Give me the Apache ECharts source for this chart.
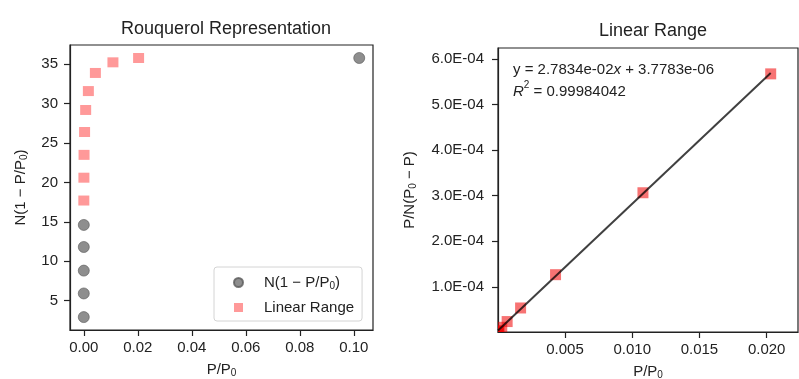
<!DOCTYPE html>
<html>
<head>
<meta charset="utf-8">
<script src="https://cdn.jsdelivr.net/npm/echarts@6/dist/echarts.min.js"></script>
<style>
  html, body { margin: 0; padding: 0; background: #fff; }
  #chart { width: 799px; height: 379px; }
</style>
</head>
<body>
<div id="chart"></div>
<script>
// data
var allX = [0.000001, 0.000002, 0.000004, 0.000006, 0.00001, 0.102];
var allN = [2.9, 5.9, 8.8, 11.8, 14.6, 35.8];
var linX = [0.00002, 0.00005, 0.0001, 0.0003, 0.0007, 0.0017, 0.0043, 0.0108, 0.0203];
var linN = [17.7, 20.6, 23.5, 26.4, 29.2, 31.6, 33.9, 35.25, 35.8];
var linY = [1.13e-6, 2.43e-6, 4.26e-6, 1.14e-5, 2.40e-5, 5.38e-5, 1.268e-4, 3.064e-4, 5.670e-4];
var fitSlope = 2.7834e-2;
var fitIntercept = 3.7783e-6;

// tick labels
var leftXTicks = [0, 0.02, 0.04, 0.06, 0.08, 0.10];
var leftYTicks = [5, 10, 15, 20, 25, 30, 35];
var rightXTicks = [0.005, 0.010, 0.015, 0.020];
var rightYTicks = [1e-4, 2e-4, 3e-4, 4e-4, 5e-4, 6e-4];

var FONT = "'Liberation Sans', Arial, sans-serif";
var INK = '#222';
var FS = 15;

var pairs = function (xs, ys) {
  var out = [];
  for (var i = 0; i < xs.length; i++) out.push([xs[i], ys[i]]);
  return out;
};

var sciLabel = function (v) {
  var s = v.toExponential(1).toUpperCase();
  return s.replace(/E([+-])(\d)$/, 'E$10$2');
};

var subRich = {
  a: { fontSize: FS, fontFamily: FONT, color: INK, lineHeight: 17 },
  s: { fontSize: 10, fontFamily: FONT, color: INK, lineHeight: 10, verticalAlign: 'bottom', padding: [5, 0, 0, 0] }
};

var axisCommon = function (opts) {
  var ax = {
    type: 'value',
    gridIndex: opts.grid,
    min: opts.min,
    max: opts.max,
    splitLine: { show: false },
    axisLine: { show: true, onZero: false, lineStyle: { color: INK, width: 1.2 } },
    axisTick: { show: true, length: 6, lineStyle: { color: INK, width: 1.2 }, customValues: opts.ticks },
    axisLabel: { color: INK, fontSize: FS, fontFamily: FONT, margin: opts.margin, customValues: opts.ticks, formatter: opts.fmt },
    name: opts.name,
    nameLocation: 'middle',
    nameGap: opts.nameGap,
    nameTextStyle: { rich: subRich }
  };
  if (opts.rotate) ax.nameRotate = 90;
  return ax;
};

// squares of the linear plot, clipped to the plot box like the original
var renderClippedSquare = function (params, api) {
  var p = api.coord([api.value(0), api.value(1)]);
  var half = 5.5;
  var shape = echarts.graphic.clipRectByRect(
    { x: p[0] - half, y: p[1] - half, width: half * 2, height: half * 2 },
    { x: params.coordSys.x, y: params.coordSys.y, width: params.coordSys.width, height: params.coordSys.height }
  );
  if (!shape) return null;
  return { type: 'rect', shape: shape, style: { fill: 'rgba(240,0,0,0.55)' } };
};

var chart = echarts.init(document.getElementById('chart'));

var xMin = linX[0], xMax = linX[linX.length - 1];

var option = {
  animation: false,
  backgroundColor: '#fff',
  title: [
    { text: 'Rouquerol Representation', left: 221, top: 15, textAlign: 'center',
      textStyle: { fontSize: 18, fontWeight: 'normal', color: INK, fontFamily: FONT } },
    { text: 'Linear Range', left: 648, top: 17, textAlign: 'center',
      textStyle: { fontSize: 18, fontWeight: 'normal', color: INK, fontFamily: FONT } }
  ],
  grid: [
    { left: 70, top: 45, width: 303, height: 285, outerBoundsMode: 'none', containLabel: false,
      show: true, borderColor: INK, borderWidth: 1.2, backgroundColor: 'transparent' },
    { left: 498, top: 48, width: 300, height: 284, outerBoundsMode: 'none', containLabel: false,
      show: true, borderColor: INK, borderWidth: 1.2, backgroundColor: 'transparent' }
  ],
  xAxis: [
    axisCommon({ grid: 0, min: -0.0051, max: 0.1071, ticks: leftXTicks, nameGap: 31, margin: 10,
      fmt: function (v) { return v.toFixed(2); }, name: '{a|P/P}{s|0}' }),
    axisCommon({ grid: 1, min: xMin, max: xMax * 1.1, ticks: rightXTicks, nameGap: 31, margin: 10,
      fmt: function (v) { return v.toFixed(3); }, name: '{a|P/P}{s|0}' })
  ],
  yAxis: [
    axisCommon({ grid: 0, min: 1.26, max: 37.45, ticks: leftYTicks, nameGap: 41, rotate: true, margin: 12,
      fmt: function (v) { return String(Math.round(v)); }, name: '{a|N(1 − P/P}{s|0}{a|)}' }),
    axisCommon({ grid: 1, min: linY[0], max: linY[linY.length - 1] * 1.1, ticks: rightYTicks, nameGap: 80, rotate: true, margin: 14,
      fmt: sciLabel, name: '{a|P/N(P}{s|0}{a| − P)}' })
  ],
  legend: {
    data: ['N(1 − P/P0)', 'Linear Range'],
    orient: 'vertical',
    left: 214,
    top: 267,
    itemWidth: 9,
    itemHeight: 9,
    itemGap: 9,
    padding: [8, 8, 6, 19],
    borderColor: '#d4d4d4',
    borderWidth: 1,
    borderRadius: 3,
    backgroundColor: 'rgba(255,255,255,0.8)',
    formatter: function (name) {
      if (name === 'Linear Range') return '{sp|}{a|Linear Range}';
      return '{sp|}{a|N(1 − P/P}{s|0}{a|)}';
    },
    textStyle: {
      rich: {
        sp: { width: 16 },
        a: subRich.a,
        s: subRich.s
      }
    }
  },
  graphic: [
    {
      type: 'text', left: 513, top: 62,
      style: {
        text: '{a|y = 2.7834e-02}{i|x}{a| + 3.7783e-06}\n{i|R}{p|2}{a| = 0.99984042}',
        rich: {
          a: { fontSize: FS, fontFamily: FONT, fill: INK, lineHeight: 22 },
          i: { fontSize: FS, fontFamily: FONT, fill: INK, fontStyle: 'italic', lineHeight: 22 },
          p: { fontSize: 10, fontFamily: FONT, fill: INK, verticalAlign: 'top', lineHeight: 12 }
        }
      }
    }
  ],
  series: [
    {
      name: 'N(1 − P/P0)',
      type: 'scatter',
      xAxisIndex: 0, yAxisIndex: 0,
      symbol: 'circle',
      symbolSize: 11,
      itemStyle: { color: '#727272', borderColor: '#5a5a5a', borderWidth: 0.8 },
      data: pairs(allX, allN)
    },
    {
      name: 'Linear Range',
      type: 'scatter',
      xAxisIndex: 0, yAxisIndex: 0,
      symbol: 'rect',
      symbolSize: [11, 10],
      itemStyle: { color: 'rgba(255,0,0,0.5)' },
      data: pairs(linX, linN)
    },
    {
      name: 'lin-points',
      type: 'custom',
      xAxisIndex: 1, yAxisIndex: 1,
      renderItem: renderClippedSquare,
      data: pairs(linX, linY)
    },
    {
      name: 'fit',
      type: 'line',
      xAxisIndex: 1, yAxisIndex: 1,
      showSymbol: false,
      z: 5,
      lineStyle: { color: 'rgba(0,0,0,0.75)', width: 2 },
      data: [[xMin, fitSlope * xMin + fitIntercept], [xMax, fitSlope * xMax + fitIntercept]]
    }
  ]
};

chart.setOption(option);
</script>
</body>
</html>
